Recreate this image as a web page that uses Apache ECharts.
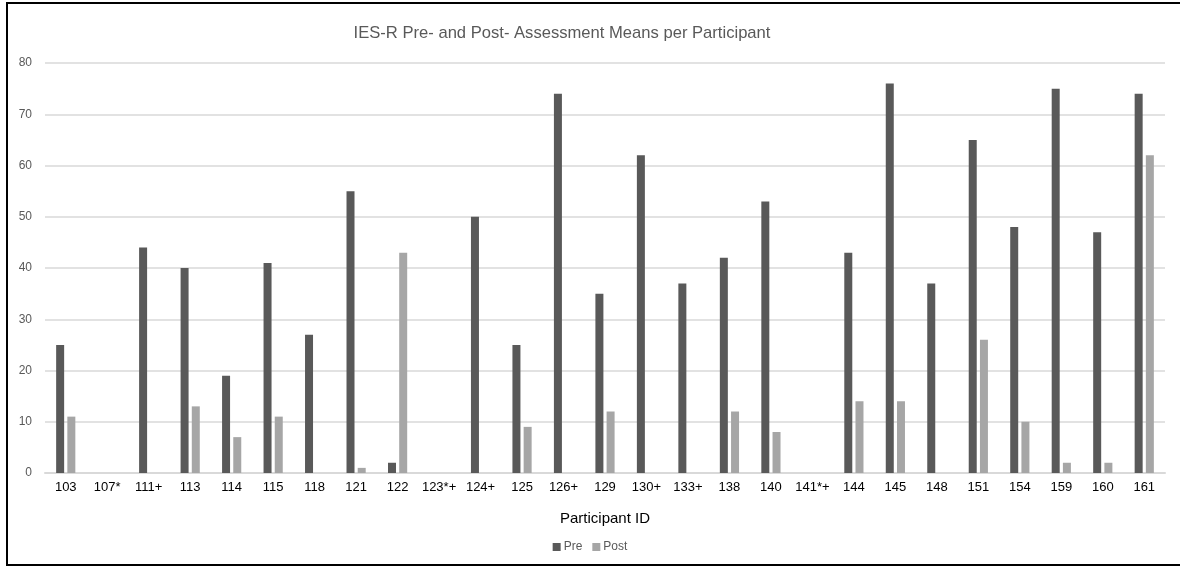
<!DOCTYPE html>
<html>
<head>
<meta charset="utf-8">
<script src="https://cdn.jsdelivr.net/npm/echarts@6/dist/echarts.min.js"></script>
<style>
html,body{margin:0;padding:0;background:#fff;}
#c{width:1180px;height:567px;}
</style>
</head>
<body>
<div id="c"></div>
<script>
const categories = ['103','107*','111+','113','114','115','118','121','122','123*+','124+','125','126+','129','130+','133+','138','140','141*+','144','145','148','151','154','159','160','161'];
const preValues  = [25,0,44,40,19,41,27,55,2,0,50,25,74,35,62,37,42,53,0,43,76,37,65,48,75,47,74];
const postValues = [11,0,0,13,7,11,0,1,43,0,0,9,0,12,0,0,12,8,0,14,14,0,26,10,2,2,62];
const yTicks = {min:0, max:80, interval:10};

const FONT = '"Liberation Sans Narrow","Arial Narrow","Liberation Sans",Arial,sans-serif';
const chart = echarts.init(document.getElementById('c'), null, {renderer:'canvas'});
chart.setOption({
  animation:false,
  backgroundColor:'#fff',
  title:{
    text:'IES-R Pre- and Post- Assessment Means per Participant',
    left:557, top:20, textAlign:'center',
    textStyle:{color:'#595959', fontSize:16.6, fontWeight:'normal', fontFamily:FONT}
  },
  legend:{
    data:['Pre','Post'],
    bottom:9, left:'center',
    itemWidth:8, itemHeight:8, itemGap:10,
    icon:'rect',
    textStyle:{color:'#595959', fontSize:12, fontFamily:FONT, padding:[0,0,0,-2]}
  },
  grid:{left:45, right:15, top:63, bottom:94},
  xAxis:{
    type:'category',
    data:categories,
    name:'Participant ID',
    nameLocation:'middle',
    nameGap:38,
    nameTextStyle:{color:'#000', fontSize:15, fontFamily:FONT},
    axisLine:{lineStyle:{color:'#d9d9d9', width:2}},
    axisTick:{show:false},
    axisLabel:{color:'#000', fontSize:13, fontFamily:FONT, margin:8, interval:0}
  },
  yAxis:{
    type:'value',
    min:yTicks.min, max:yTicks.max, interval:yTicks.interval,
    axisLine:{show:false},
    axisTick:{show:false},
    splitLine:{lineStyle:{color:'#d9d9d9', width:1.5}},
    axisLabel:{color:'#595959', fontSize:12, fontFamily:FONT, margin:13}
  },
  series:[
    {name:'Pre', type:'bar', data:preValues, barWidth:8, barGap:'40%',
     itemStyle:{color:'#595959'}},
    {name:'Post', type:'bar', data:postValues, barWidth:8, barGap:'40%',
     itemStyle:{color:'#a6a6a6'}}
  ],
  graphic:[
    {type:'rect', shape:{x:7, y:3, width:1185, height:562},
     style:{fill:'none', stroke:'#000', lineWidth:2}, silent:true, z:100}
  ]
});
</script>
</body>
</html>
